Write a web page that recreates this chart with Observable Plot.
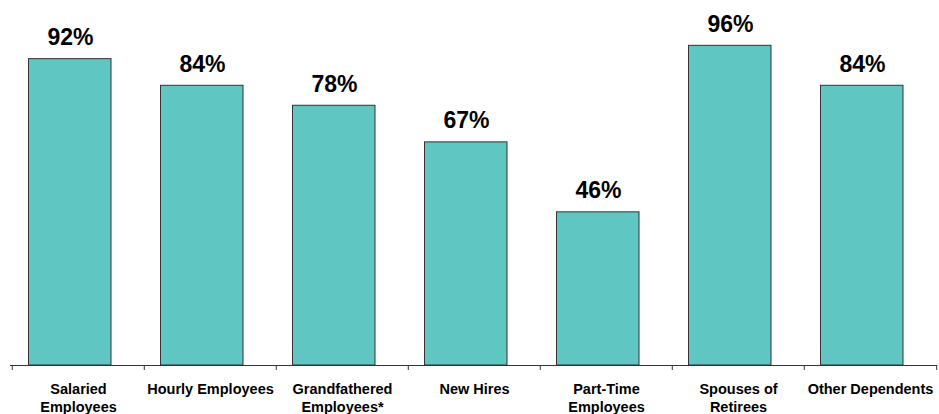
<!DOCTYPE html>
<html>
<head>
<meta charset="utf-8">
<script src="https://cdn.jsdelivr.net/npm/d3@7"></script>
<script src="https://cdn.jsdelivr.net/npm/@observablehq/plot@0.6"></script>
<style>
  html, body { margin: 0; padding: 0; background: #fff; }
  #chart svg { display: block; font-family: "Liberation Sans", Arial, sans-serif; }
</style>
</head>
<body>
<div id="chart"></div>
<script>
const categories = ["Salaried\nEmployees", "Hourly Employees", "Grandfathered\nEmployees*", "New Hires", "Part-Time\nEmployees", "Spouses of\nRetirees", "Other Dependents"];
const values = [92, 84, 78, 67, 46, 96, 84];
const valueLabels = ["92%", "84%", "78%", "67%", "46%", "96%", "84%"];

const data = categories.map((c, i) => ({category: c, value: values[i], label: valueLabels[i]}));

const W = 939, H = 414, mL = 10, mR = 2, mT = 32, mB = 49;
const bw = (W - mL - mR) / categories.length;

const chart = Plot.plot({
  width: W,
  height: H,
  marginLeft: mL,
  marginRight: mR,
  marginTop: mT,
  marginBottom: mB,
  style: {fontFamily: "'Liberation Sans', Arial, sans-serif", background: "#fff"},
  x: {domain: categories, padding: 0, label: null},
  y: {domain: [0, 100], axis: null},
  marks: [
    Plot.barY(data, {x: "category", y: "value", fill: "#5fc6c2", stroke: "#333", strokeWidth: 1, insetLeft: 16.5, insetRight: 33}),
    Plot.text(data, {x: "category", y: "value", text: "label", dx: -8, dy: -14, lineAnchor: "bottom", fontSize: 23, fontWeight: "bold", fill: "#000"}),
    Plot.ruleY([0], {stroke: "#333", strokeWidth: 1}),
    Plot.axisX({ticks: categories, tickSize: 5, text: null, label: null, dx: -bw / 2, stroke: "#333"}),
    Plot.axisX({ticks: [categories[categories.length - 1]], tickSize: 5, text: null, label: null, dx: bw / 2, stroke: "#333"}),
    Plot.axisX({tickSize: 0, tickPadding: 15, fontSize: 14.5, fontWeight: "bold", fill: "#000", lineHeight: 1.27, label: null})
  ]
});
document.getElementById("chart").appendChild(chart);
</script>
</body>
</html>
